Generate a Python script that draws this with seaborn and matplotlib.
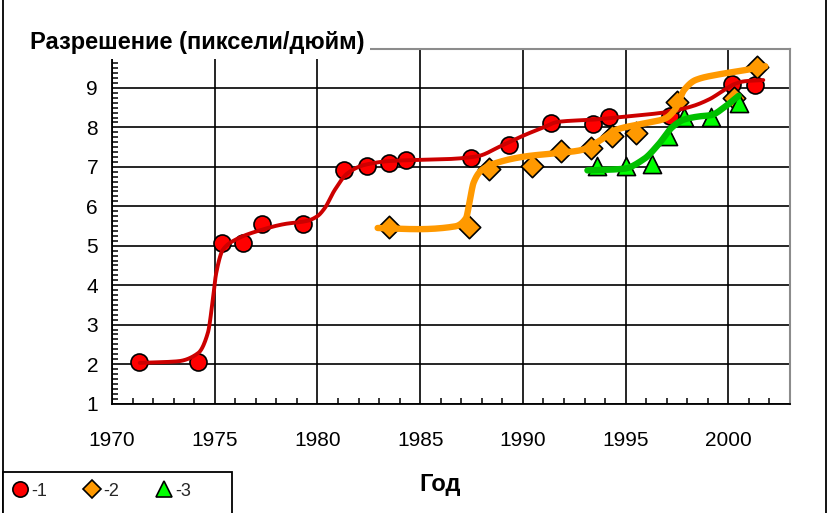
import numpy as np
import matplotlib
matplotlib.use("Agg")
import matplotlib.pyplot as plt
import seaborn as sns
from matplotlib.lines import Line2D
from matplotlib.patches import Rectangle
from matplotlib.ticker import MultipleLocator

# ---- marker data (year, resolution) ----
years_1 = [1971.3, 1974.2, 1975.35, 1976.4, 1977.3, 1979.3, 1981.3, 1982.4, 1983.5, 1984.3,
           1987.45, 1989.3, 1991.35, 1993.4, 1994.2, 1997.15, 2000.2, 2001.3]
res_1 = [2.06, 2.06, 5.08, 5.08, 5.56, 5.56, 6.92, 7.03, 7.10, 7.18,
         7.23, 7.56, 8.11, 8.09, 8.27, 8.29, 9.10, 9.08]

years_2 = [1983.5, 1987.4, 1988.35, 1990.45, 1991.85, 1993.3, 1994.35, 1995.5, 1997.5, 2000.27, 2001.37]
res_2 = [5.48, 5.48, 6.94, 7.01, 7.39, 7.47, 7.77, 7.85, 8.65, 8.74, 9.52]

years_3 = [1993.6, 1995.0, 1996.3, 1997.05, 1997.85, 1999.15, 2000.5]
res_3 = [7.03, 7.03, 7.08, 7.77, 8.27, 8.26, 8.61]

# ---- smoothed trend lines (knots) ----
curve_years_1 = [1971.35, 1973.2, 1974.2, 1974.67, 1974.9, 1975.07, 1975.4, 1976.0, 1977.26, 1978.4,
                 1979.5, 1980.0, 1980.35, 1980.85, 1981.47, 1982.3, 1983.6, 1986.5, 1987.8, 1988.9,
                 1990.06, 1991.0, 1991.7, 1993.5, 1995.1, 1996.9, 1998.2, 1999.1, 1999.8, 2000.3,
                 2000.8, 2001.7]
curve_res_1 = [2.03, 2.07, 2.28, 2.80, 3.60, 4.30, 4.90, 5.15, 5.40, 5.55,
               5.63, 5.75, 5.95, 6.42, 6.84, 7.05, 7.15, 7.20, 7.27, 7.52,
               7.80, 8.00, 8.14, 8.20, 8.28, 8.38, 8.53, 8.72, 8.95, 9.10,
               9.17, 9.20]

curve_years_2 = [1982.93, 1984.9, 1986.7, 1987.23, 1987.4, 1987.6, 1988.0, 1988.9, 1990.2, 1991.7,
                 1992.8, 1993.6, 1994.6, 1995.9, 1996.9, 1997.4, 1997.85, 1998.4, 1999.5, 2000.8, 2001.8]
curve_res_2 = [5.45, 5.42, 5.49, 5.70, 6.10, 6.60, 6.92, 7.13, 7.27, 7.35,
               7.42, 7.62, 7.95, 8.10, 8.22, 8.45, 8.95, 9.20, 9.34, 9.45, 9.55]

curve_years_3 = [1993.14, 1994.9, 1995.9, 1996.6, 1997.3, 1997.85, 1998.6, 1999.15, 1999.9, 2000.5]
curve_res_3 = [6.91, 6.95, 7.20, 7.57, 8.02, 8.20, 8.28, 8.31, 8.55, 8.80]

x_ticks = [1970, 1975, 1980, 1985, 1990, 1995, 2000]
y_ticks = [1, 2, 3, 4, 5, 6, 7, 8, 9, 10]
legend_labels = ["-1", "-2", "-3"]
title_text = "Разрешение (пиксели/дюйм)"
xlabel_text = "Год"


def smooth(xs, ys, n=24):
    """Monotone cubic Hermite rendering of a smoothed line through the knots."""
    x = np.asarray(xs, float)
    y = np.asarray(ys, float)
    h = np.diff(x)
    d = np.diff(y) / h
    m = np.zeros_like(y)
    m[0], m[-1] = d[0], d[-1]
    for i in range(1, len(y) - 1):
        if d[i - 1] * d[i] <= 0:
            m[i] = 0.0
        else:
            w1 = 2 * h[i] + h[i - 1]
            w2 = h[i] + 2 * h[i - 1]
            m[i] = (w1 + w2) / (w1 / d[i - 1] + w2 / d[i])
    px, py = [], []
    t = np.linspace(0, 1, n, endpoint=False)
    for i in range(len(x) - 1):
        h00 = 2 * t ** 3 - 3 * t ** 2 + 1
        h10 = t ** 3 - 2 * t ** 2 + t
        h01 = -2 * t ** 3 + 3 * t ** 2
        h11 = t ** 3 - t ** 2
        px.append(x[i] + t * h[i])
        py.append(h00 * y[i] + h10 * h[i] * m[i] + h01 * y[i + 1] + h11 * h[i] * m[i + 1])
    px.append([x[-1]])
    py.append([y[-1]])
    return np.concatenate(px), np.concatenate(py)


sns.set_theme(style="white")
plt.rcParams['font.family'] = ['Liberation Sans', 'DejaVu Sans']

fig = plt.figure(figsize=(8.29, 5.13), dpi=100)
ax = fig.add_axes([112 / 829, 1 - 403.5 / 513, (790 - 112) / 829, (403.5 - 48.5) / 513])

mk = dict(edgecolor="black", linewidth=1.2, zorder=3, legend=False)
sns.scatterplot(x=years_1, y=res_1, marker="o", s=150, color="#FF0000", ax=ax, **mk)
sns.scatterplot(x=years_2, y=res_2, marker="D", s=130, color="#FF9900", ax=ax, **mk)
sns.scatterplot(x=years_3, y=res_3, marker="^", s=170, color="#00FF00", ax=ax, **mk)

for cx, cy, col, lw in [(curve_years_1, curve_res_1, "#CC0000", 2.8),
                        (curve_years_2, curve_res_2, "#FF9900", 4.6),
                        (curve_years_3, curve_res_3, "#00C000", 4.6)]:
    sx, sy = smooth(cx, cy)
    sns.lineplot(x=sx, y=sy, sort=False, estimator=None, color=col, linewidth=lw,
                 ax=ax, zorder=4, legend=False)

ax.set_xlim(1970, 2003)
ax.set_ylim(1, 10)
ax.set_xticks(x_ticks)
ax.set_yticks(y_ticks)
# the top label (10) is hidden behind the title box in the original
ax.set_yticklabels([str(v) if v < 10 else "" for v in y_ticks])
ax.xaxis.set_minor_locator(MultipleLocator(1))
ax.yaxis.set_minor_locator(MultipleLocator(0.125))
ax.grid(True, which="major", color="black", linewidth=1.2)
ax.set_axisbelow(True)
ax.set_xlabel("")
ax.set_ylabel("")

for s in ["left", "bottom"]:
    ax.spines[s].set_color("black")
    ax.spines[s].set_linewidth(1.3)
for s in ["top", "right"]:
    ax.spines[s].set_color("#8C8C8C")
    ax.spines[s].set_linewidth(1.5)

ax.tick_params(axis="both", which="major", direction="inout", length=12, width=1.3,
               color="black", labelsize=15, labelcolor="black")
ax.tick_params(axis="x", which="major", pad=14)
ax.tick_params(axis="y", which="major", pad=4)
ax.tick_params(axis="both", which="minor", direction="in", length=4, width=1.1,
               color="black", bottom=True, left=True)

# title with white background covering the top of the plot
fig.text(30 / 829, 1 - 42 / 513, title_text, fontsize=17, fontweight="bold", color="black",
         va="center", ha="left",
         bbox=dict(facecolor="white", edgecolor="none", pad=4), zorder=10)
fig.text(440 / 829, 1 - 484 / 513, xlabel_text, fontsize=17, fontweight="bold", color="black",
         va="center", ha="center")

# outer frame (left/right edges)
fig.add_artist(Line2D([3 / 829, 3 / 829], [0, 1], color="black", linewidth=1.3))
fig.add_artist(Line2D([826 / 829, 826 / 829], [0, 1], color="black", linewidth=1.3))

# legend box
fig.add_artist(Rectangle((3 / 829, -0.02), 229 / 829, (513 - 472) / 513 + 0.02,
                         transform=fig.transFigure, facecolor="white", edgecolor="black",
                         linewidth=1.3, zorder=5))

handles = [
    Line2D([], [], marker="o", linestyle="none", markersize=11, markerfacecolor="#FF0000",
           markeredgecolor="black", markeredgewidth=1.2),
    Line2D([], [], marker="D", linestyle="none", markersize=9, markerfacecolor="#FF9900",
           markeredgecolor="black", markeredgewidth=1.2),
    Line2D([], [], marker="^", linestyle="none", markersize=12, markerfacecolor="#00FF00",
           markeredgecolor="black", markeredgewidth=1.2),
]
leg = fig.legend(handles, legend_labels, loc="center left", ncol=3,
                 bbox_to_anchor=(6 / 829, 1 - 491 / 513),
                 borderaxespad=0, fontsize=13, handlelength=0.8, handletextpad=0.2,
                 columnspacing=2.1, frameon=False, borderpad=0.4)
leg.set_zorder(6)

fig.savefig("out.png", dpi=100, facecolor="white")
